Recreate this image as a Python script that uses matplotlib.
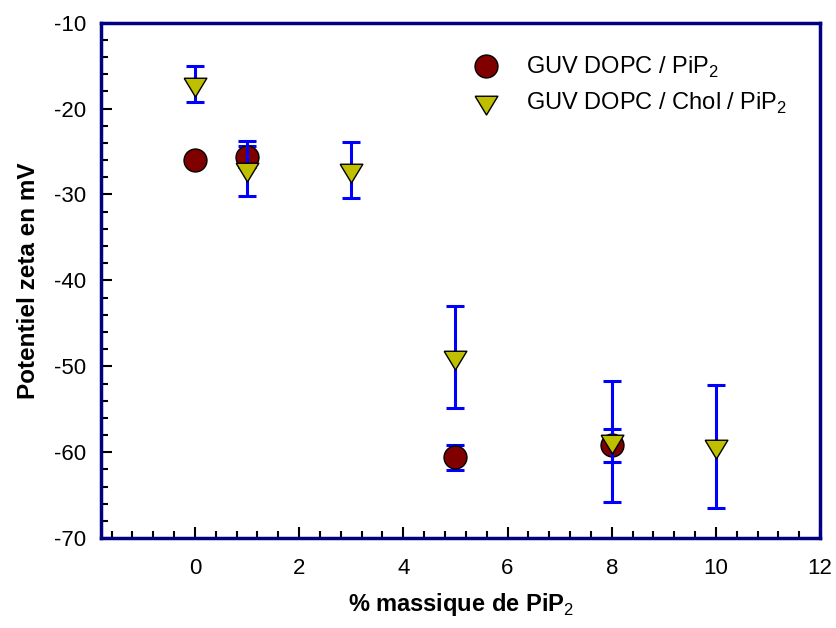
import matplotlib.pyplot as plt
from matplotlib.lines import Line2D
import numpy as np

# GUV DOPC / PiP2
x_dopc = [0, 1, 5, 8]
y_dopc = [-26.0, -25.6, -60.6, -59.2]
err_dopc = [0.3, 1.2, 1.5, 1.95]

# GUV DOPC / Chol / PiP2
x_chol = [0, 1, 3, 5, 8, 10]
y_chol = [-17.1, -27.0, -27.2, -48.9, -58.7, -59.3]
err_chol = [2.1, 3.2, 3.25, 5.9, 7.05, 7.15]

label_dopc = "GUV DOPC / PiP$_2$"
label_chol = "GUV DOPC / Chol / PiP$_2$"

plt.rcParams['font.family'] = ['Liberation Sans', 'DejaVu Sans']
plt.rcParams['axes.unicode_minus'] = False
plt.rcParams['mathtext.fontset'] = 'custom'
plt.rcParams['mathtext.rm'] = 'Liberation Sans'
plt.rcParams['mathtext.bf'] = 'Liberation Sans:bold'

RED = '#800000'
OLIVE = '#bfbf00'
BLUE = '#0000ff'
NAVY = '#000080'

# downward triangle centred on its centroid
tri = [(-1, 0.55), (1, 0.55), (0, -1.1), (-1, 0.55)]

fig = plt.figure(figsize=(8.36, 6.28), dpi=100)
ax = fig.add_axes([0.121, 0.143, 0.860, 0.821])

ax.errorbar(x_dopc, y_dopc, yerr=err_dopc, fmt='none', ecolor=BLUE,
            elinewidth=2.2, capsize=6.5, capthick=2.2, zorder=2)
ax.plot(x_dopc, y_dopc, linestyle='none', marker='o', markersize=16.5,
        markerfacecolor=RED, markeredgecolor='black', markeredgewidth=1.0, zorder=3)
ax.errorbar(x_chol, y_chol, yerr=err_chol, fmt='none', ecolor=BLUE,
            elinewidth=2.2, capsize=6.5, capthick=2.2, zorder=4)
ax.plot(x_chol, y_chol, linestyle='none', marker=tri, markersize=18,
        markerfacecolor=OLIVE, markeredgecolor='black', markeredgewidth=1.0, zorder=5)

ax.set_xlim(-1.8, 12)
ax.set_ylim(-70, -10)
ax.set_xticks([0, 2, 4, 6, 8, 10, 12])
ax.set_xticks(np.arange(-1.6, 12, 0.4), minor=True)
ax.set_yticks([-70, -60, -50, -40, -30, -20, -10])
ax.set_yticks(np.arange(-70, -10, 2), minor=True)
ax.tick_params(which='both', direction='in', top=False, right=False,
               labelsize=16, width=1.5, color='black')
ax.tick_params(axis='x', which='both', pad=14)
ax.tick_params(axis='y', which='both', pad=11)
ax.tick_params(which='major', length=8)
ax.tick_params(which='minor', length=5)
for side in ['left', 'bottom', 'top', 'right']:
    ax.spines[side].set_color(NAVY)
    ax.spines[side].set_linewidth(2.5)

ax.set_xlabel("% massique de PiP$_2$", fontsize=17, fontweight='bold', labelpad=9)
ax.set_ylabel("Potentiel zeta en mV", fontsize=17.5, fontweight='bold', labelpad=10)

handles = [
    Line2D([], [], linestyle='none', marker='o', markersize=16.5,
           markerfacecolor=RED, markeredgecolor='black', markeredgewidth=1.0),
    Line2D([], [], linestyle='none', marker=tri, markersize=18,
           markerfacecolor=OLIVE, markeredgecolor='black', markeredgewidth=1.0),
]
ax.legend(handles, [label_dopc, label_chol], loc='upper left',
          bbox_to_anchor=(474 / 836, 1 - 55 / 628), bbox_transform=fig.transFigure,
          frameon=False, fontsize=17, handlelength=1.0, handletextpad=1.2,
          labelspacing=0.45, borderpad=0, borderaxespad=0)

fig.savefig('out.png', dpi=100)
